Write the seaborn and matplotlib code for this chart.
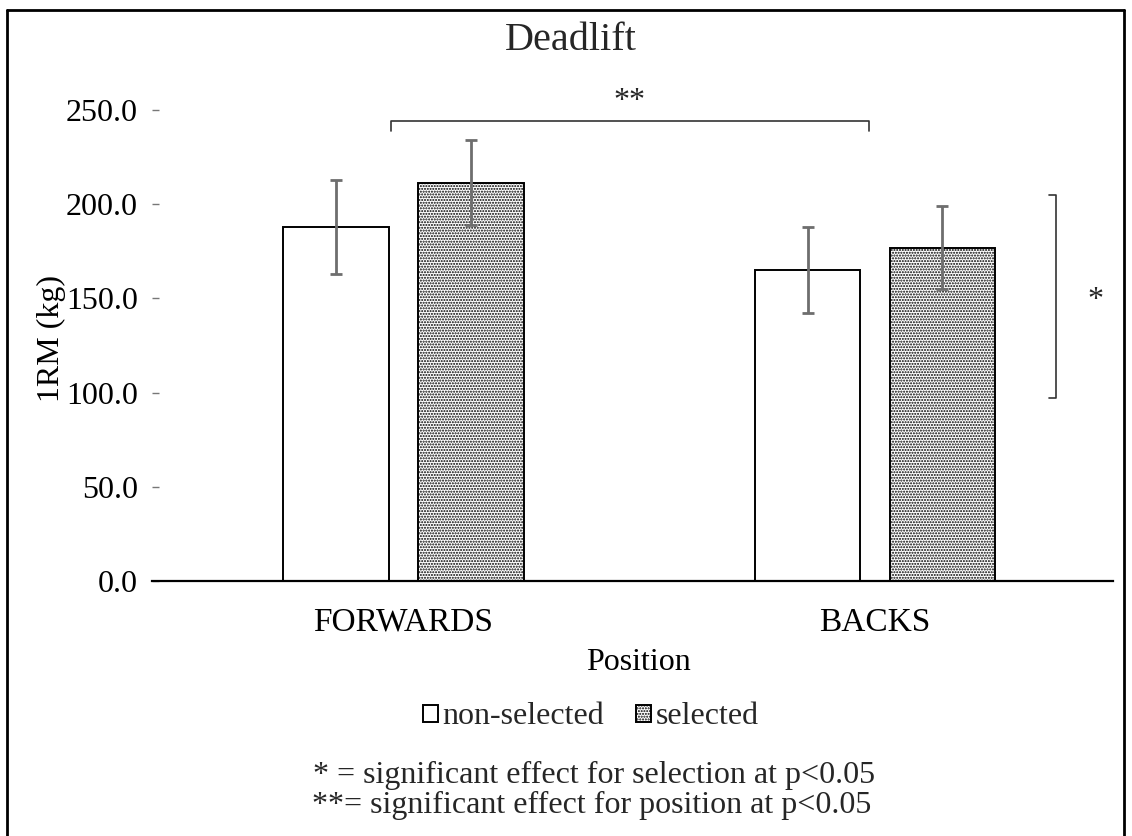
import matplotlib
matplotlib.use("Agg")
import matplotlib.pyplot as plt
from matplotlib.lines import Line2D
import seaborn as sns
import pandas as pd
import numpy as np

positions = ["FORWARDS", "BACKS"]
groups = ["non-selected", "selected"]
non_selected_mean = [188.0, 165.0]
selected_mean = [211.5, 177.0]
non_selected_sd = [25.0, 23.0]
selected_sd = [22.5, 22.0]
y_ticks = [0, 50, 100, 150, 200, 250]

sns.set_theme(style="white")
plt.rcParams['font.family'] = ['Liberation Serif', 'DejaVu Serif']
plt.rcParams['hatch.linewidth'] = 1.0
plt.rcParams['hatch.color'] = 'black'

df = pd.DataFrame({
    "Position": positions * 2,
    "group": [groups[0]] * 2 + [groups[1]] * 2,
    "value": non_selected_mean + selected_mean,
})

FS = 23
W, H = 1132, 836
fig = plt.figure(figsize=(W / 100, H / 100), dpi=100)
ax_l, ax_r, ax_b, ax_t = 152, 1113, 581, 110
ax = fig.add_axes([ax_l / W, (H - ax_b) / H, (ax_r - ax_l) / W, (ax_b - ax_t) / H])

sns.barplot(data=df, x="Position", y="value", hue="group", order=positions,
            hue_order=groups, palette=["white", "white"], width=0.572, gap=0.22,
            edgecolor="black", linewidth=1.4, errorbar=None, ax=ax, legend=False)

for p in ax.containers[1]:
    p.set_hatch("......")

sds = [non_selected_sd, selected_sd]
for cont, sd in zip(ax.containers, sds):
    xs = [p.get_x() + p.get_width() / 2 for p in cont]
    ys = [p.get_height() for p in cont]
    ax.errorbar(xs, ys, yerr=sd, fmt="none", ecolor="#6e6e6e", elinewidth=2,
                capsize=4.3, capthick=2, zorder=5)

x0 = -(403.5 - ax_l) / 471.5
x1 = 1 + (ax_r - 875) / 471.5
ax.set_xlim(x0, x1)
ax.set_ylim(0, 250)
ax.set_yticks(y_ticks)
ax.set_yticklabels([f"{v:.1f}" for v in y_ticks])

for s in ["top", "right", "left"]:
    ax.spines[s].set_visible(False)
ax.spines["bottom"].set_color("black")
ax.spines["bottom"].set_linewidth(1.6)

ax.tick_params(axis="y", direction="in", length=5, width=1, color="#777777",
               labelsize=FS, pad=10, left=True)
ax.tick_params(axis="x", length=0, labelsize=FS + 1, pad=19)
for lab in ax.get_xticklabels() + ax.get_yticklabels():
    lab.set_color("black")

ax.set_xlabel("Position", fontsize=FS, color="black")
ax.xaxis.set_label_coords((638 - ax_l) / (ax_r - ax_l), -(662 - ax_b) / (ax_b - ax_t))
ax.xaxis.label.set_va("center")
ax.set_ylabel("1RM (kg)", fontsize=FS, color="black")
ax.yaxis.set_label_coords((51 - ax_l) / (ax_r - ax_l), (ax_b - 338) / (ax_b - ax_t))
ax.yaxis.label.set_va("center")

# significance brackets
bk = dict(color="#333333", lw=1.2, clip_on=False)
ax.plot([-0.0265, -0.0265, 0.987, 0.987], [239.0, 244.2, 244.2, 239.0], **bk)
ax.text(0.48, 254.5, "**", ha="center", va="center", fontsize=FS)
ax.plot([1.370, 1.384, 1.384, 1.370], [204.9, 204.9, 97.1, 97.1], **bk)
ax.text(1.467, 149, "*", ha="center", va="center", fontsize=FS)

# title
fig.text(571 / W, 1 - 41 / H, "Deadlift", ha="center", va="center", fontsize=29)

# legend
handles = [ax.containers[0][0], ax.containers[1][0]]
leg = fig.legend(handles, groups, loc="center", bbox_to_anchor=(591 / W, 1 - 717 / H),
                 ncol=2, frameon=False, fontsize=FS, handlelength=0.45,
                 handleheight=0.45, handletextpad=0.15, columnspacing=1.0)

fig.text(594 / W, 1 - 775 / H, "* = significant effect for selection at p<0.05",
         ha="center", va="center", fontsize=FS)
fig.text(592 / W, 1 - 805 / H, "**= significant effect for position at p<0.05",
         ha="center", va="center", fontsize=FS)

# outer frame
fr = dict(color="black", lw=2, transform=fig.transFigure)
fig.add_artist(Line2D([7 / W, 7 / W], [0, 1 - 10 / H], **fr))
fig.add_artist(Line2D([7 / W, 1124 / W], [1 - 10 / H, 1 - 10 / H], **fr))
fig.add_artist(Line2D([1124 / W, 1124 / W], [0, 1 - 10 / H], **fr))

fig.savefig("out.png", dpi=100, facecolor="white")
